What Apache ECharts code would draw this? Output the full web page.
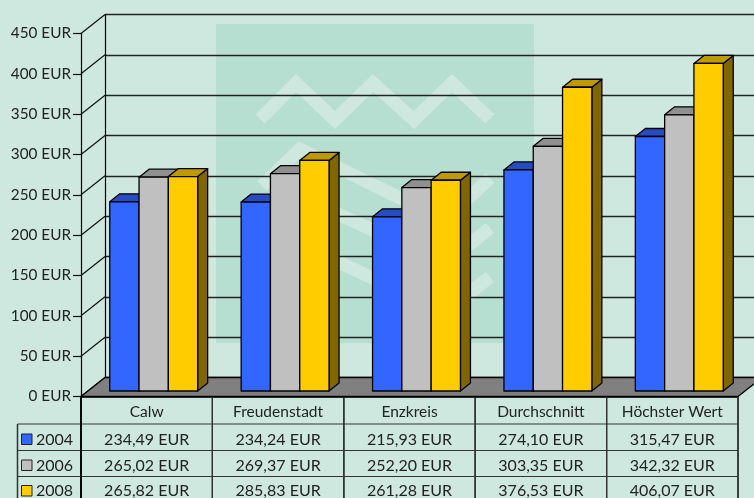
<!DOCTYPE html>
<html>
<head>
<meta charset="utf-8">
<title>EUR</title>
<style>
html, body { margin: 0; padding: 0; background: #cfe8df; overflow: hidden; }
#chart { width: 754px; height: 498px; }
</style>
<script src="https://cdn.jsdelivr.net/npm/echarts@6/dist/echarts.min.js"></script>
</head>
<body>
<div id="chart"></div>
<script>
var categories = ['Calw', 'Freudenstadt', 'Enzkreis', 'Durchschnitt', 'Höchster Wert'];
var years = ['2004', '2006', '2008'];
var values2004 = [234.49, 234.24, 215.93, 274.10, 315.47];
var values2006 = [265.02, 269.37, 252.20, 303.35, 342.32];
var values2008 = [265.82, 285.83, 261.28, 376.53, 406.07];
var yTicks = [0, 50, 100, 150, 200, 250, 300, 350, 400, 450];

var allValues = [values2004, values2006, values2008];
var frontColors = ['#3366ff', '#c0c0c0', '#ffcc00'];
var topColors = ['#264cbf', '#909090', '#bf9900'];
var sideColors = ['#1a3380', '#606060', '#806600'];

var FONT = 'Lato';
var TEXT = '#222';
var WALL_DX = 24, WALL_DY = -19;   // Versatz Vorderkante -> Rückwand
var BAR_DX = 7, BAR_DY = -5.5;     // Versatz der Säulen auf dem Boden
var BAR_W = 29.3, DEPTH_DX = 10, DEPTH_DY = -8;
var ROW_LINES = [27.5, 54, 80, 106];  // Tabellenzeilen unter der Nulllinie
var ROW_TEXT = [43, 69, 94.5];

function fmt(v) {
    return v.toFixed(2).replace('.', ',') + ' EUR';
}

function poly(points, fill, z) {
    return {
        type: 'polygon',
        z2: z,
        shape: { points: points },
        style: { fill: fill, stroke: '#000', lineWidth: 1.3, lineJoin: 'round' }
    };
}

// eine 3D-Säule
function barRenderer(idx) {
    return function (params, api) {
        var base = api.coord([api.value(0), 0]);
        var top = api.coord([api.value(0), api.value(1)]);
        var x0 = base[0] + BAR_DX - 1.5 * BAR_W + idx * BAR_W;
        var x1 = x0 + BAR_W;
        var y0 = base[1] + BAR_DY;
        var y1 = top[1] + BAR_DY;
        return {
            type: 'group',
            children: [
                poly([[x1, y1], [x1 + DEPTH_DX, y1 + DEPTH_DY], [x1 + DEPTH_DX, y0 + DEPTH_DY], [x1, y0]], sideColors[idx], 1),
                poly([[x0, y1], [x0 + DEPTH_DX, y1 + DEPTH_DY], [x1 + DEPTH_DX, y1 + DEPTH_DY], [x1, y1]], topColors[idx], 1),
                poly([[x0, y1], [x1, y1], [x1, y0], [x0, y0]], frontColors[idx], 2)
            ]
        };
    };
}

// Boden und schräge Linien zur Rückwand
function renderFloor(params, api) {
    var p = api.coord([0, 0]);
    var w = api.size([1, 0])[0];
    var left = p[0] - w / 2, right = left + 5 * w;
    return poly([[left, p[1]], [left + WALL_DX, p[1] + WALL_DY], [right + WALL_DX, p[1] + WALL_DY], [right, p[1]]], '#808080', 1);
}
function renderDiagonal(params, api) {
    var p = api.coord([0, api.value(0)]);
    var left = p[0] - api.size([1, 0])[0] / 2;
    return {
        type: 'line',
        shape: { x1: left, y1: p[1], x2: left + WALL_DX, y2: p[1] + WALL_DY },
        style: { stroke: '#111', lineWidth: 1.2 }
    };
}

// Datentabelle unter dem Diagramm
function renderCell(params, api) {
    var cat = api.value(0), row = api.value(1);
    var p = api.coord([cat, 0]);
    var w = api.size([1, 0])[0];
    var lx = p[0] - w / 2, rx = lx + w;
    var line = { stroke: '#333', lineWidth: 1.2 };
    var kids = [
        { type: 'line', shape: { x1: rx, y1: p[1], x2: rx, y2: p[1] + ROW_LINES[3] }, style: line },
        { type: 'line', shape: { x1: lx, y1: p[1] + ROW_LINES[row], x2: rx, y2: p[1] + ROW_LINES[row] }, style: line },
        {
            type: 'text',
            style: {
                x: p[0], y: p[1] + ROW_TEXT[row], text: fmt(allValues[row][cat]),
                align: 'center', verticalAlign: 'middle', fill: TEXT, font: '16px ' + FONT
            }
        }
    ];
    return { type: 'group', children: kids };
}
function renderLegendCell(params, api) {
    var row = api.value(0);
    var p = api.coord([0, 0]);
    var lx = p[0] - api.size([1, 0])[0] / 2;
    var line = { stroke: '#333', lineWidth: 1.2 };
    return {
        type: 'group',
        children: [
            { type: 'line', shape: { x1: lx - 63.5, y1: p[1] + ROW_LINES[row], x2: lx, y2: p[1] + ROW_LINES[row] }, style: line },
            { type: 'line', shape: { x1: lx - 63.5, y1: p[1] + ROW_LINES[0], x2: lx - 63.5, y2: p[1] + ROW_LINES[3] }, style: line },
            { type: 'line', shape: { x1: lx, y1: p[1], x2: lx, y2: p[1] + ROW_LINES[3] }, style: { stroke: '#000', lineWidth: 1.3 } },
            {
                type: 'rect',
                shape: { x: lx - 59.5, y: p[1] + ROW_TEXT[row] - 5.5, width: 10.5, height: 10.5 },
                style: { fill: frontColors[row], stroke: '#222', lineWidth: 1 }
            },
            {
                type: 'text',
                style: {
                    x: lx - 45, y: p[1] + ROW_TEXT[row], text: years[row],
                    align: 'left', verticalAlign: 'middle', fill: TEXT, font: '16px ' + FONT
                }
            }
        ]
    };
}

var cellData = [];
for (var r = 0; r < years.length; r++) {
    for (var c = 0; c < categories.length; c++) {
        cellData.push([c, r]);
    }
}

var option = {
    backgroundColor: '#cfe8df',
    animation: false,
    textStyle: { fontFamily: FONT },
    // Hintergrundlogo
    graphic: [{
        type: 'group',
        silent: true,
        z: -10,
        children: [
            { type: 'rect', shape: { x: 216, y: 24, width: 318, height: 319 }, style: { fill: '#b7dfd1' } },
            { type: 'polyline', shape: { points: [[260, 119], [296, 83], [335, 120], [373, 83], [414, 120], [452, 83], [490, 119]] }, style: { fill: null, stroke: '#cfe8df', lineWidth: 13 } },
            { type: 'polyline', shape: { points: [[262, 186], [300, 149], [445, 220], [490, 178]] }, style: { fill: null, stroke: '#cfe8df', lineWidth: 13 } },
            { type: 'polyline', shape: { points: [[262, 233], [300, 196], [445, 264], [490, 228]] }, style: { fill: null, stroke: '#cfe8df', lineWidth: 13 } },
            { type: 'polyline', shape: { points: [[262, 280], [300, 244], [445, 312], [490, 277]] }, style: { fill: null, stroke: '#cfe8df', lineWidth: 13 } }
        ]
    }],
    grid: [
        { left: 81, right: 16, top: 33.5, bottom: 101.5 },
        { left: 105, right: -8, top: 14.5, bottom: 120.5 }
    ],
    xAxis: [{
        type: 'category',
        gridIndex: 0,
        data: categories,
        axisLine: { lineStyle: { color: '#000', width: 1.5 } },
        axisTick: { show: false },
        axisLabel: { interval: 0, hideOverlap: false, color: TEXT, fontSize: 15.5, fontFamily: FONT, margin: 7 }
    }, {
        type: 'category',
        gridIndex: 1,
        data: categories,
        show: false
    }],
    yAxis: [{
        type: 'value',
        gridIndex: 0,
        min: 0,
        max: 450,
        interval: 50,
        axisLine: { show: true, lineStyle: { color: '#000', width: 1.2 } },
        axisTick: { show: true, length: 8, lineStyle: { color: '#111', width: 1.2 } },
        axisLabel: { formatter: '{value} EUR', color: TEXT, fontSize: 15.3, fontFamily: FONT, margin: 10, padding: [2, 0, 0, 0] },
        splitLine: { show: false }
    }, {
        type: 'value',
        gridIndex: 1,
        min: 0,
        max: 450,
        interval: 50,
        axisLine: { show: true, lineStyle: { color: '#000', width: 1.2 } },
        axisTick: { show: false },
        axisLabel: { show: false },
        splitLine: { show: true, lineStyle: { color: '#222', width: 1.3 } }
    }],
    series: [
        { type: 'custom', name: 'Boden', coordinateSystem: 'cartesian2d', renderItem: renderFloor, data: [[0]], z: 1 },
        { type: 'custom', name: 'Schräge', coordinateSystem: 'cartesian2d', renderItem: renderDiagonal, data: yTicks.map(function (t) { return [t]; }), encode: { y: 0 }, z: 1 },
        { type: 'custom', name: 'Tabelle', coordinateSystem: 'cartesian2d', renderItem: renderCell, data: cellData, clip: false, z: 1 },
        { type: 'custom', name: 'Legende', coordinateSystem: 'cartesian2d', renderItem: renderLegendCell, data: [[0], [1], [2]], clip: false, z: 1 }
    ]
};

years.forEach(function (year, i) {
    option.series.push({
        type: 'custom',
        name: year,
        coordinateSystem: 'cartesian2d',
        renderItem: barRenderer(i),
        data: allValues[i].map(function (v, c) { return [c, v]; }),
        encode: { x: 0, y: 1 },
        z: 3 + i
    });
});

var chart = echarts.init(document.getElementById('chart'), null, { renderer: 'canvas' });
chart.setOption(option);
</script>
</body>
</html>
